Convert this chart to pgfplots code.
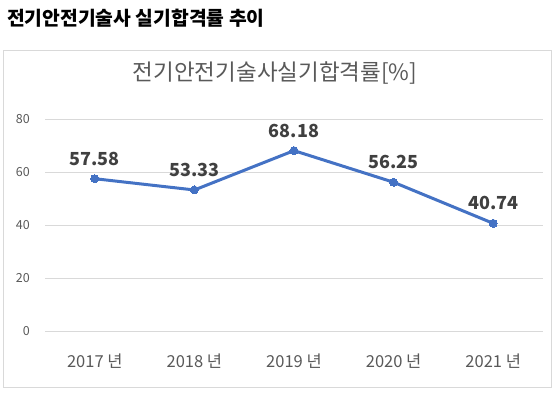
\documentclass[border=0pt]{standalone}
\usepackage{pgfplots}
\pgfplotsset{compat=1.18}
\usepackage{fontspec}
\setmainfont{Noto Sans CJK KR}
\definecolor{lineblue}{HTML}{4472C4}
\definecolor{gridgray}{HTML}{D9D9D9}
\definecolor{txtgray}{HTML}{595959}
\definecolor{lblgray}{HTML}{404040}
\begin{document}
\begin{tikzpicture}
\path[use as bounding box] (0,0) rectangle (557pt,-394pt);
\node[anchor=west, inner sep=0pt, font=\fontsize{19.3pt}{21pt}\selectfont\bfseries] at (7pt,-18pt) {전기안전기술사 실기합격률 추이};
\draw[gridgray, line width=0.9pt] (3.5pt,-50.5pt) rectangle (551.5pt,-387pt);
\node[inner sep=0pt, text=txtgray, font=\fontsize{22.5pt}{25pt}\selectfont] at (275pt,-73pt) {전기안전기술사실기합격률[\%]};
\begin{axis}[
  at={(45pt,-331.3pt)}, anchor=south west,
  scale only axis, width=498pt, height=212pt,
  xmin=-0.5, xmax=4.5, ymin=0, ymax=80,
  xtick={0,1,2,3,4},
  xticklabels={2017 년,2018 년,2019 년,2020 년,2021 년},
  ytick={0,20,40,60,80},
  /pgf/number format/assume math mode=true,
  ymajorgrids, major grid style={gridgray, line width=0.9pt},
  axis line style={draw=none},
  major tick length=0pt,
  tick style={draw=none},
  yticklabel style={inner sep=0pt, xshift=-15pt, text=txtgray, font=\fontsize{12.5pt}{14pt}\selectfont},
  xticklabel style={inner sep=0pt, anchor=center, yshift=-30pt, text=txtgray, font=\fontsize{16.5pt}{18pt}\selectfont},
  clip=false,
]
\addplot[lineblue, line width=3pt, mark=*, mark size=4pt, mark options={fill=lineblue, draw=lineblue, line width=0pt},
  nodes near coords, point meta=explicit symbolic,
  every node near coord/.append style={anchor=center, yshift=20pt, text=lblgray, font=\fontsize{18pt}{20pt}\selectfont\bfseries}]
coordinates {(0,57.58)[57.58] (1,53.33)[53.33] (2,68.18)[68.18] (3,56.25)[56.25] (4,40.74)[40.74]};
\end{axis}
\end{tikzpicture}
\end{document}
